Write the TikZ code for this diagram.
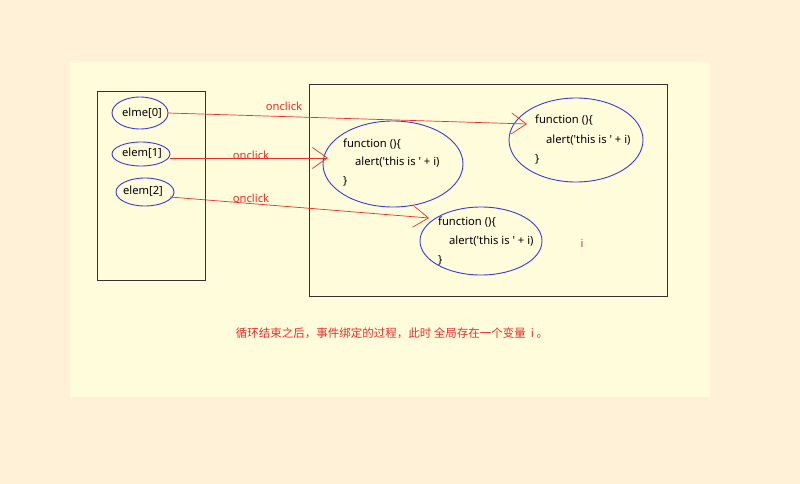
\documentclass[tikz,border=0pt]{standalone}
\usepackage{fontspec}
\setmainfont{Noto Sans}
\newfontfamily\lat{Noto Sans}
\newfontfamily\cjk{Noto Sans CJK SC}
\usetikzlibrary{arrows.meta}
\definecolor{outerbg}{HTML}{FEF1D8}
\definecolor{innerbg}{HTML}{FFFCDC}
\definecolor{redline}{HTML}{E8302A}
\definecolor{blueel}{HTML}{3A3AD8}
\definecolor{boxline}{HTML}{333333}
\tikzset{
  panel/.style={draw=boxline, line width=0.9pt},
  elline/.style={draw=blueel, line width=0.9pt},
  txt/.style={font=\lat\fontsize{11.2}{13}\selectfont, text=black, inner sep=0pt},
  redtxt/.style={font=\lat\fontsize{11.2}{13}\selectfont, text=redline, inner sep=0pt},
  conn/.style={draw=redline, line width=0.7pt, -{Straight Barb[length=15pt,width=21pt,line width=0.7pt]}},
}
\begin{document}
\begin{tikzpicture}[x=1pt,y=-1pt]
\useasboundingbox (0,0) rectangle (800,484);
\fill[outerbg] (0,0) rectangle (800,484);
\fill[innerbg] (70,62) rectangle (710,397);
% boxes
\draw[panel] (97,91) rectangle (205,280);
\draw[panel] (309,84) rectangle (667,296);
% small ellipses
\draw[elline] (140,113) ellipse [x radius=28, y radius=16];
\draw[elline] (141,154) ellipse [x radius=29, y radius=12];
\draw[elline] (145,192) ellipse [x radius=29, y radius=14];
\node[txt] (e0) at (142,113) {elme[0]};
\node[txt] (e1) at (142,153) {elem[1]};
\node[txt] (e2) at (143,191) {elem[2]};
% big ellipses
\draw[elline] (393,164) ellipse [x radius=70, y radius=43];
\draw[elline] (576,140) ellipse [x radius=67, y radius=42];
\draw[elline] (481,241) ellipse [x radius=61, y radius=34];
% function texts
\node[txt, anchor=west] (fa1) at (343,144) {function ()\{};
\node[txt, anchor=west] (fa2) at (355,162) {alert('this is ' + i)};
\node[txt, anchor=west] (fa3) at (343,181) {\}};
\node[txt, anchor=west] (fb1) at (535,120) {function ()\{};
\node[txt, anchor=west] (fb2) at (546,140) {alert('this is ' + i)};
\node[txt, anchor=west] (fb3) at (535,159) {\}};
\node[txt, anchor=west] (fc1) at (438,222) {function ()\{};
\node[txt, anchor=west] (fc2) at (449,241) {alert('this is ' + i)};
\node[txt, anchor=west] (fc3) at (438,260) {\}};
\node[redtxt] (ivar) at (582,243) {i};
% connectors
\coordinate (s0) at (168,113);
\coordinate (s1) at (170,158);
\coordinate (s2) at (170,197);
\coordinate (t0) at (527,124);
\coordinate (t1) at (328,158);
\coordinate (t2) at (429,218);
\draw[conn] (s0) -- (t0);
\draw[conn] (s1) -- (t1);
\draw[conn] (s2) -- (t2);
\node[redtxt] (on0) at (284,106) {onclick};
\node[redtxt] (on1) at (251,155) {onclick};
\node[redtxt] (on2) at (251,198) {onclick};
\node[redtxt, font=\cjk\fontsize{11.5}{13}\selectfont] (note) at (392,333) {循环结束之后，事件绑定的过程，此时 全局存在一个变量 \ i 。};
\end{tikzpicture}
\end{document}
